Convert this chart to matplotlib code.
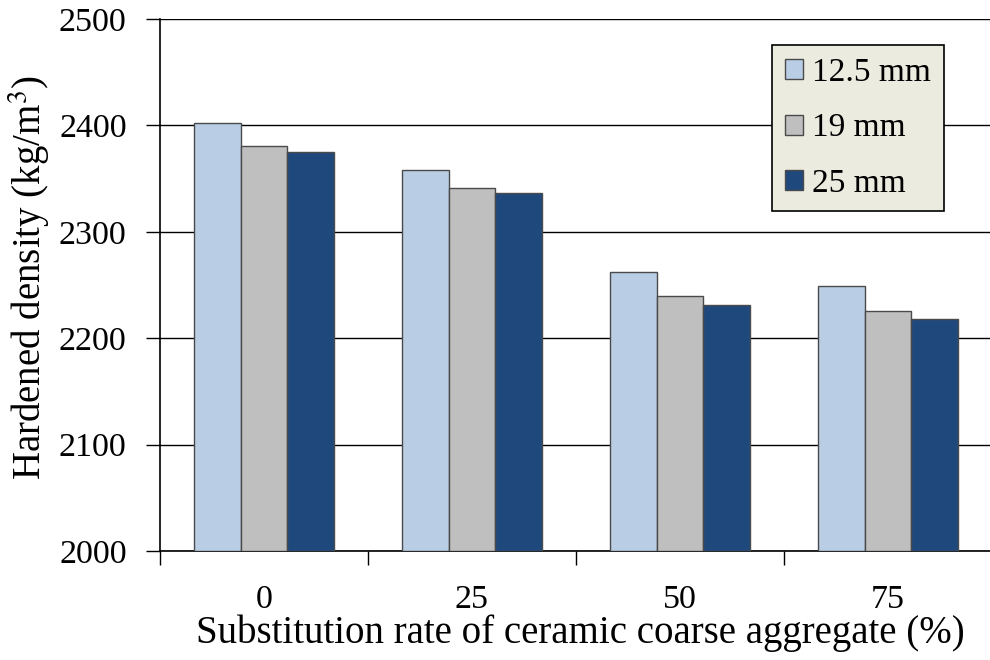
import numpy as np
import matplotlib
matplotlib.use('Agg')
import matplotlib.pyplot as plt

# --- data ---
categories = ['0', '25', '50', '75']
series_names = ['12.5 mm', '19 mm', '25 mm']
density_125 = [2402, 2358, 2262, 2249]
density_19 = [2381, 2341, 2240, 2226]
density_25 = [2375, 2336, 2231, 2218]
y_ticks = [2000, 2100, 2200, 2300, 2400, 2500]

colors = ['#B9CDE5', '#BFBFBF', '#1F497D']

plt.rcParams['font.family'] = ['Liberation Serif', 'DejaVu Serif']
plt.rcParams['mathtext.fontset'] = 'stix'

fig = plt.figure(figsize=(9.9, 6.6), dpi=100)
ax = fig.add_axes([160 / 990, 109 / 660, 832 / 990, 532 / 660])

x = np.arange(len(categories))
w = 0.224
for i, (vals, name) in enumerate(zip([density_125, density_19, density_25], series_names)):
    ax.bar(x + (i - 1) * w, np.array(vals) - 2000, width=w, bottom=2000,
           color=colors[i], edgecolor='#4A4A4A', linewidth=1.0, label=name, zorder=3)

ax.set_ylim(2000, 2500)
ax.set_xlim(-0.5, 3.5)
ax.set_yticks(y_ticks)
ax.set_yticklabels([str(v) for v in y_ticks])
ax.yaxis.grid(True, color='black', linewidth=1.0, zorder=0)
ax.set_axisbelow(True)

# category labels in the middle, tick marks at the boundaries
ax.set_xticks(x)
ax.set_xticklabels(categories)
ax.tick_params(axis='x', which='major', length=0, pad=24)
ax.set_xticks(np.arange(-0.5, 3.5, 1.0), minor=True)
ax.tick_params(axis='x', which='minor', length=10, width=1.0, direction='out')
ax.tick_params(axis='y', length=10, width=1.0, direction='out', pad=14)
ax.tick_params(labelsize=24.5)

for s in ['top', 'right']:
    ax.spines[s].set_visible(False)
for s in ['left', 'bottom']:
    ax.spines[s].set_linewidth(1.2)

ax.set_xlabel('Substitution rate of ceramic coarse aggregate (%)', fontsize=28)
ax.set_ylabel('Hardened density (kg/m$^3$)', fontsize=28)
ax.xaxis.set_label_coords((580 - 160) / 832, (551 - 614) / 532)
ax.yaxis.set_label_coords((52 - 160) / 832, (551 - 278) / 532)

leg = ax.legend(loc='upper left', bbox_to_anchor=((772 - 160) / 832, (551 - 45) / 532),
                fontsize=24, frameon=True, fancybox=False, handlelength=0.55,
                handleheight=0.55, handletextpad=0.28, labelspacing=0.74,
                borderpad=0.38, borderaxespad=0)
leg.get_frame().set_facecolor('#ECEBE0')
leg.get_frame().set_edgecolor('black')
leg.get_frame().set_linewidth(1.2)
leg.get_frame().set_alpha(1)

fig.savefig('out.png', dpi=100)
